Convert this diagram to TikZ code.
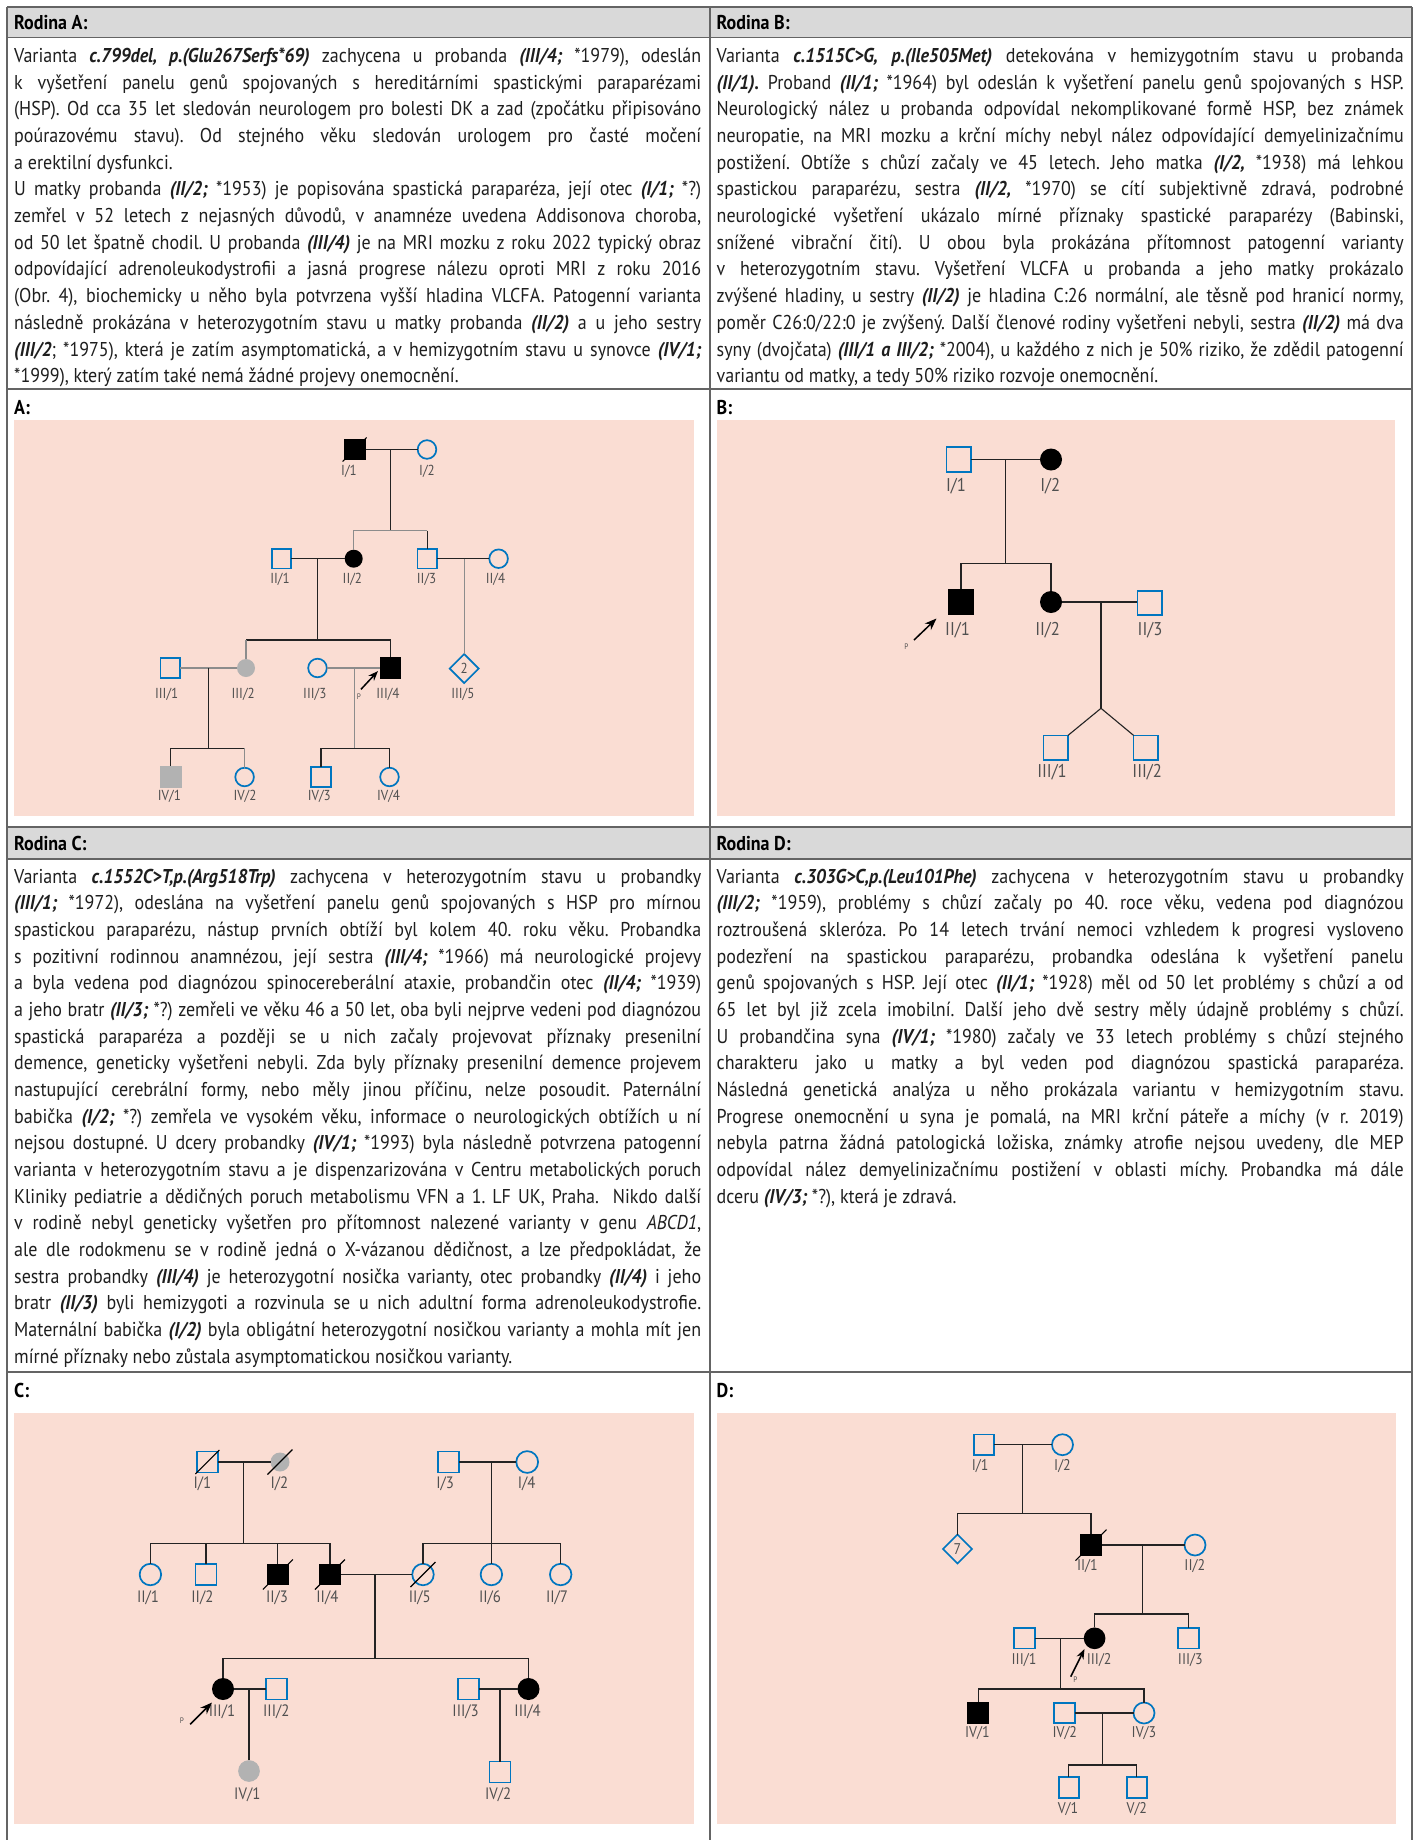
\documentclass[tikz,border=0pt]{standalone}
\usepackage{fontspec}
\setmainfont{PT Sans}[FakeStretch=0.90]
\frenchspacing
\usetikzlibrary{arrows.meta,shapes.geometric}
\definecolor{pblue}{RGB}{0,118,192}
\definecolor{pinkbg}{RGB}{250,221,211}
\definecolor{hdgray}{RGB}{217,217,217}
\definecolor{tabline}{RGB}{100,100,100}
\definecolor{symgray}{RGB}{178,178,178}
\definecolor{labgray}{RGB}{80,80,80}
\definecolor{ldark}{RGB}{35,35,35}
\definecolor{lgray}{RGB}{140,140,140}
\definecolor{txtc}{RGB}{30,30,30}
\newlength\tw \setlength\tw{687pt}
\newcommand\bodyf{\fontsize{20}{24}\selectfont\frenchspacing\spaceskip=4.8pt plus 9pt minus 1.7pt\relax}
\newcommand\rf[1]{{\bfseries\itshape #1}}
\newcommand\JL[4]{\node[tl] (#1) at (#2,#3) {\makebox[\tw][s]{#4}};}
\newcommand\LL[4]{\node[tl] (#1) at (#2,#3) {#4};}
\newcommand\dead[2]{\draw[dl] ([shift={(-#2pt,-#2pt)}]#1.center) -- ([shift={(#2pt,#2pt)}]#1.center);}
\newcommand\labA{\fontsize{14.5}{16}\selectfont}
\newcommand\labB{\fontsize{18.5}{20}\selectfont}
\newcommand\labC{\fontsize{16.5}{18}\selectfont}
\newcommand\labD{\fontsize{15.5}{17}\selectfont}
\tikzset{
 tl/.style={anchor=base west, inner sep=0pt, font=\bodyf, text=txtc},
 hd/.style={anchor=base west, inner sep=0pt, font=\fontsize{20}{24}\selectfont\bfseries, text=black},
 tab/.style={draw=tabline, line width=1.3pt},
 sym/.style={inner sep=0pt, outer sep=0pt},
 bsq/.style={sym, rectangle, draw=pblue, line width=1.7pt, minimum size=#1},
 ksq/.style={sym, rectangle, fill=black, minimum size=#1},
 gsq/.style={sym, rectangle, fill=symgray, minimum size=#1},
 bci/.style={sym, circle, draw=pblue, line width=1.7pt, minimum size=#1},
 kci/.style={sym, circle, fill=black, minimum size=#1},
 gci/.style={sym, circle, fill=symgray, minimum size=#1},
 bdi/.style={sym, diamond, aspect=1, draw=pblue, line width=1.7pt, minimum size=#1, text=labgray},
 lab/.style={inner sep=0pt, text=labgray},
 kl/.style={draw=ldark, line width=1.1pt},
 gl/.style={draw=lgray, line width=1.1pt},
 dl/.style={draw=black, line width=1.1pt},
 parr/.style={draw=black, line width=1.5pt, -{Stealth[length=#1,width=0.75*#1]}},
 pl/.style={inner sep=0pt, text=labgray, font=\fontsize{8}{9}\selectfont},
}
\begin{document}
\begin{tikzpicture}[x=1pt,y=-1pt]
\useasboundingbox (0,0) rectangle (1417,1840);
\fill[white] (0,0) rectangle (1417,1840);
% ---------- table ----------
\fill[hdgray] (7,7) rectangle (1412,37.5);
\fill[hdgray] (7,827) rectangle (1412,859);
\draw[tab] (7,7) -- (1412,7);
\draw[tab] (7,37.5) -- (1412,37.5);
\draw[tab] (7,389) -- (1412,389);
\draw[tab] (7,827) -- (1412,827);
\draw[tab] (7,859) -- (1412,859);
\draw[tab] (7,1372) -- (1412,1372);
\draw[tab] (7,7) -- (7,1840);
\draw[tab] (710,7) -- (710,1840);
\draw[tab] (1412,7) -- (1412,1840);
\node[hd] (hA) at (14,29.5) {Rodina A:};
\node[hd] (hB) at (716.5,29.5) {Rodina B:};
\node[hd] (hC) at (14,850) {Rodina C:};
\node[hd] (hD) at (716.5,850) {Rodina D:};
\node[hd] (pA) at (14,414) {A:};
\node[hd] (pB) at (716.5,414) {B:};
\node[hd] (pC) at (14,1397) {C:};
\node[hd] (pD) at (716.5,1397) {D:};
% ---------- text A ----------
\JL{a1}{14}{62.3}{Varianta \rf{c.799del, p.(Glu267Serfs*69)} zachycena u probanda \rf{(III/4;} *1979), odeslán}
\JL{a2}{14}{89}{k vyšetření panelu genů spojovaných s hereditárními spastickými paraparézami}
\JL{a3}{14}{115.7}{(HSP). Od cca 35 let sledován neurologem pro bolesti DK a zad (zpočátku připisováno}
\JL{a4}{14}{142.4}{poúrazovému stavu). Od stejného věku sledován urologem pro časté močení}
\LL{a5}{14}{169.1}{a erektilní dysfunkci.}
\JL{a6}{14}{195.8}{U matky probanda \rf{(II/2;} *1953) je popisována spastická paraparéza, její otec \rf{(I/1;} *?)}
\JL{a7}{14}{222.5}{zemřel v 52 letech z nejasných důvodů, v anamnéze uvedena Addisonova choroba,}
\JL{a8}{14}{249.2}{od 50 let špatně chodil. U probanda \rf{(III/4)} je na MRI mozku z roku 2022 typický obraz}
\JL{a9}{14}{275.9}{odpovídající adrenoleukodystrofii a jasná progrese nálezu oproti MRI z roku 2016}
\JL{a10}{14}{302.6}{(Obr. 4), biochemicky u něho byla potvrzena vyšší hladina VLCFA. Patogenní varianta}
\JL{a11}{14}{329.3}{následně prokázána v heterozygotním stavu u matky probanda \rf{(II/2)} a u jeho sestry}
\JL{a12}{14}{356}{\rf{(III/2}; *1975), která je zatím asymptomatická, a v hemizygotním stavu u synovce \rf{(IV/1;}}
\LL{a13}{14}{382.7}{*1999), který zatím také nemá žádné projevy onemocnění.}
% ---------- text B ----------
\JL{b1}{716.5}{62.3}{Varianta \rf{c.1515C>G, p.(Ile505Met)} detekována v hemizygotním stavu u probanda}
\JL{b2}{716.5}{89}{\rf{(II/1).} Proband \rf{(II/1;} *1964) byl odeslán k vyšetření panelu genů spojovaných s HSP.}
\JL{b3}{716.5}{115.7}{Neurologický nález u probanda odpovídal nekomplikované formě HSP, bez známek}
\JL{b4}{716.5}{142.4}{neuropatie, na MRI mozku a krční míchy nebyl nález odpovídající demyelinizačnímu}
\JL{b5}{716.5}{169.1}{postižení. Obtíže s chůzí začaly ve 45 letech. Jeho matka \rf{(I/2,} *1938) má lehkou}
\JL{b6}{716.5}{195.8}{spastickou paraparézu, sestra \rf{(II/2,} *1970) se cítí subjektivně zdravá, podrobné}
\JL{b7}{716.5}{222.5}{neurologické vyšetření ukázalo mírné příznaky spastické paraparézy (Babinski,}
\JL{b8}{716.5}{249.2}{snížené vibrační čití). U obou byla prokázána přítomnost patogenní varianty}
\JL{b9}{716.5}{275.9}{v heterozygotním stavu. Vyšetření VLCFA u probanda a jeho matky prokázalo}
\JL{b10}{716.5}{302.6}{zvýšené hladiny, u sestry \rf{(II/2)} je hladina C:26 normální, ale těsně pod hranicí normy,}
\JL{b11}{716.5}{329.3}{poměr C26:0/22:0 je zvýšený. Další členové rodiny vyšetřeni nebyli, sestra \rf{(II/2)} má dva}
\JL{b12}{716.5}{356}{syny (dvojčata) \rf{(III/1 a III/2;} *2004), u každého z nich je 50\% riziko, že zdědil patogenní}
\LL{b13}{716.5}{382.7}{variantu od matky, a tedy 50\% riziko rozvoje onemocnění.}
% ---------- text C ----------
\JL{c1}{14}{883.3}{Varianta \rf{c.1552C>T,p.(Arg518Trp)} zachycena v heterozygotním stavu u probandky}
\JL{c2}{14}{909.95}{\rf{(III/1;} *1972), odeslána na vyšetření panelu genů spojovaných s HSP pro mírnou}
\JL{c3}{14}{936.6}{spastickou paraparézu, nástup prvních obtíží byl kolem 40. roku věku. Probandka}
\JL{c4}{14}{963.25}{s pozitivní rodinnou anamnézou, její sestra \rf{(III/4;} *1966) má neurologické projevy}
\JL{c5}{14}{989.9}{a byla vedena pod diagnózou spinocereberální ataxie, probandčin otec \rf{(II/4;} *1939)}
\JL{c6}{14}{1016.55}{a jeho bratr \rf{(II/3;} *?) zemřeli ve věku 46 a 50 let, oba byli nejprve vedeni pod diagnózou}
\JL{c7}{14}{1043.2}{spastická paraparéza a později se u nich začaly projevovat příznaky presenilní}
\JL{c8}{14}{1069.85}{demence, geneticky vyšetřeni nebyli. Zda byly příznaky presenilní demence projevem}
\JL{c9}{14}{1096.5}{nastupující cerebrální formy, nebo měly jinou příčinu, nelze posoudit. Paternální}
\JL{c10}{14}{1123.15}{babička \rf{(I/2;} *?) zemřela ve vysokém věku, informace o neurologických obtížích u ní}
\JL{c11}{14}{1149.8}{nejsou dostupné. U dcery probandky \rf{(IV/1;} *1993) byla následně potvrzena patogenní}
\JL{c12}{14}{1176.45}{varianta v heterozygotním stavu a je dispenzarizována v Centru metabolických poruch}
\JL{c13}{14}{1203.1}{Kliniky pediatrie a dědičných poruch metabolismu VFN a 1. LF UK, Praha. \ Nikdo další}
\JL{c14}{14}{1229.75}{v rodině nebyl geneticky vyšetřen pro přítomnost nalezené varianty v genu \textit{ABCD1},}
\JL{c15}{14}{1256.4}{ale dle rodokmenu se v rodině jedná o X-vázanou dědičnost, a lze předpokládat, že}
\JL{c16}{14}{1283.05}{sestra probandky \rf{(III/4)} je heterozygotní nosička varianty, otec probandky \rf{(II/4)} i jeho}
\JL{c17}{14}{1309.7}{bratr \rf{(II/3)} byli hemizygoti a rozvinula se u nich adultní forma adrenoleukodystrofie.}
\JL{c18}{14}{1336.35}{Maternální babička \rf{(I/2)} byla obligátní heterozygotní nosičkou varianty a mohla mít jen}
\LL{c19}{14}{1363}{mírné příznaky nebo zůstala asymptomatickou nosičkou varianty.}
% ---------- text D ----------
\JL{d1}{716.5}{883.3}{Varianta \rf{c.303G>C,p.(Leu101Phe)} zachycena v heterozygotním stavu u probandky}
\JL{d2}{716.5}{909.95}{\rf{(III/2;} *1959), problémy s chůzí začaly po 40. roce věku, vedena pod diagnózou}
\JL{d3}{716.5}{936.6}{roztroušená skleróza. Po 14 letech trvání nemoci vzhledem k progresi vysloveno}
\JL{d4}{716.5}{963.25}{podezření na spastickou paraparézu, probandka odeslána k vyšetření panelu}
\JL{d5}{716.5}{989.9}{genů spojovaných s HSP. Její otec \rf{(II/1;} *1928) měl od 50 let problémy s chůzí a od}
\JL{d6}{716.5}{1016.55}{65 let byl již zcela imobilní. Další jeho dvě sestry měly údajně problémy s chůzí.}
\JL{d7}{716.5}{1043.2}{U probandčina syna \rf{(IV/1;} *1980) začaly ve 33 letech problémy s chůzí stejného}
\JL{d8}{716.5}{1069.85}{charakteru jako u matky a byl veden pod diagnózou spastická paraparéza.}
\JL{d9}{716.5}{1096.5}{Následná genetická analýza u něho prokázala variantu v hemizygotním stavu.}
\JL{d10}{716.5}{1123.15}{Progrese onemocnění u syna je pomalá, na MRI krční páteře a míchy (v r. 2019)}
\JL{d11}{716.5}{1149.8}{nebyla patrna žádná patologická ložiska, známky atrofie nejsou uvedeny, dle MEP}
\JL{d12}{716.5}{1176.45}{odpovídal nález demyelinizačnímu postižení v oblasti míchy. Probandka má dále}
\LL{d13}{716.5}{1203.1}{dceru \rf{(IV/3;} *?), která je zdravá.}
% ---------- pink panels ----------
\fill[pinkbg] (14,420) rectangle (694,816);
\fill[pinkbg] (717,420) rectangle (1395,816);
\fill[pinkbg] (14,1412.7) rectangle (694,1824);
\fill[pinkbg] (717,1412.7) rectangle (1396,1824);
% ---------- pedigree A ----------
\node[ksq=21.8pt] (A_I1) at (354.6,449.5) {};
\node[bci=18.6pt] (A_I2) at (427,449.5) {};
\dead{A_I1}{12}
\draw[kl] (A_I1) -- (A_I2);
\coordinate (A_m1) at (390.4,449.5);
\coordinate (A_s1) at (390.4,530.7);
\draw[kl] (A_m1) -- (A_s1);
\node[bsq=19.6pt] (A_II1) at (281.5,558.7) {};
\node[kci=18pt] (A_II2) at (353.7,558.7) {};
\node[bsq=19.6pt] (A_II3) at (427.3,558.7) {};
\node[bci=18.6pt] (A_II4) at (498.6,558.7) {};
\draw[gl] (A_s1) -| (A_II2);
\draw[gl] (A_s1) -- (A_s1 -| A_II3);
\draw[kl] (A_s1 -| A_II3) -- (A_II3);
\draw[kl] (A_II1) -- (A_II2);
\draw[kl] (A_II3) -- (A_II4);
\coordinate (A_m2) at (317.5,558.7);
\coordinate (A_s2) at (317.5,640);
\draw[kl] (A_m2) -- (A_s2);
\coordinate (A_m3) at (464.2,558.7);
\node[bsq=19.6pt] (A_III1) at (170.3,668) {};
\node[gci=18pt] (A_III2) at (246,668) {};
\node[bci=18.6pt] (A_III3) at (317.5,668) {};
\node[ksq=21.8pt] (A_III4) at (390.4,668) {};
\node[bdi=29pt, font=\labA] (A_III5) at (464.2,668.5) {2};
\draw[kl] (A_s2) -| (A_III4);
\draw[kl] (A_s2) -- (A_s2 -| A_III2);
\draw[gl] (A_s2 -| A_III2) -- (A_III2);
\draw[gl] (A_m3) -- (A_III5);
\draw[gl] (A_III1) -- (A_III2);
\draw[gl] (A_III3) -- (A_III4);
\coordinate (A_m4) at (208.8,668);
\coordinate (A_s4) at (208.8,748.3);
\draw[kl] (A_m4) -- (A_s4);
\coordinate (A_m5) at (354.2,668);
\coordinate (A_s5) at (354.2,748.3);
\draw[gl] (A_m5) -- (A_s5);
\node[gsq=21.6pt] (A_IV1) at (170.8,777) {};
\node[bci=18.6pt] (A_IV2) at (244.6,777) {};
\node[bsq=19.6pt] (A_IV3) at (321,777) {};
\node[bci=18.6pt] (A_IV4) at (389.5,777) {};
\draw[kl] (A_s4) -| (A_IV1);
\draw[kl] (A_s4) -- (A_s4 -| A_IV2);
\draw[gl] (A_s4 -| A_IV2) -- (A_IV2);
\draw[kl] (A_s5) -| (A_IV3);
\draw[kl] (A_s5) -| (A_IV4);
\node[lab,font=\labA] (A_lI1) at (349,471) {I/1};
\node[lab,font=\labA] (A_lI2) at (427,471) {I/2};
\node[lab,font=\labA] (A_lII1) at (280,579.3) {II/1};
\node[lab,font=\labA] (A_lII2) at (352.4,579.3) {II/2};
\node[lab,font=\labA] (A_lII3) at (426.6,579.3) {II/3};
\node[lab,font=\labA] (A_lII4) at (495.5,579.3) {II/4};
\node[lab,font=\labA] (A_lIII1) at (166.7,694) {III/1};
\node[lab,font=\labA] (A_lIII2) at (243.2,694) {III/2};
\node[lab,font=\labA] (A_lIII3) at (314.8,694) {III/3};
\node[lab,font=\labA] (A_lIII4) at (388,694) {III/4};
\node[lab,font=\labA] (A_lIII5) at (462.9,694) {III/5};
\node[lab,font=\labA] (A_lIV1) at (169.4,796.7) {IV/1};
\node[lab,font=\labA] (A_lIV2) at (245,796.7) {IV/2};
\node[lab,font=\labA] (A_lIV3) at (319.3,796.7) {IV/3};
\node[lab,font=\labA] (A_lIV4) at (388.6,796.7) {IV/4};
\coordinate (A_pt) at (361,689.3);
\coordinate (A_ph) at (378,671);
\draw[parr=10pt] (A_pt) -- (A_ph);
\node[pl] (A_P) at (359,697) {P};
% ---------- pedigree B ----------
\node[bsq=24.6pt] (B_I1) at (958.9,459.5) {};
\node[kci=22pt] (B_I2) at (1051,459.5) {};
\draw[kl] (B_I1) -- (B_I2);
\coordinate (B_m1) at (1005.9,459.5);
\coordinate (B_s1) at (1005.9,563.7);
\draw[kl] (B_m1) -- (B_s1);
\node[ksq=26.3pt] (B_II1) at (961,602) {};
\node[kci=22pt] (B_II2) at (1051,602) {};
\node[bsq=24.6pt] (B_II3) at (1149.7,603) {};
\draw[kl] (B_s1) -| (B_II1);
\draw[kl] (B_s1) -| (B_II2);
\draw[kl] (B_II2) -- (B_II2 -| B_II3.west);
\coordinate (B_m2) at (1101,602);
\coordinate (B_tw) at (1101,708.3);
\draw[kl] (B_m2) -- (B_tw);
\node[bsq=24.6pt] (B_III1) at (1055.7,747.7) {};
\node[bsq=24.6pt] (B_III2) at (1145.9,747.7) {};
\draw[kl] (B_tw) -- (B_III1.north east);
\draw[kl] (B_tw) -- (B_III2.north west);
\node[lab,font=\labB] (B_lI1) at (956,485.7) {I/1};
\node[lab,font=\labB] (B_lI2) at (1050.3,485.7) {I/2};
\node[lab,font=\labB] (B_lII1) at (957.5,630) {II/1};
\node[lab,font=\labB] (B_lII2) at (1047.6,630) {II/2};
\node[lab,font=\labB] (B_lII3) at (1150,630) {II/3};
\node[lab,font=\labB] (B_lIII1) at (1052,771.7) {III/1};
\node[lab,font=\labB] (B_lIII2) at (1147.2,771.7) {III/2};
\coordinate (B_pt) at (914,640);
\coordinate (B_ph) at (936.5,618.5);
\draw[parr=12pt] (B_pt) -- (B_ph);
\node[pl] (B_P) at (906.3,647) {P};
% ---------- pedigree C ----------
\node[bsq=21pt] (C_I1) at (207.4,1462) {};
\node[gci=19pt] (C_I2) at (280,1462) {};
\dead{C_I1}{12}
\dead{C_I2}{12.5}
\draw[kl] (C_I1) -- (C_I2);
\coordinate (C_m1) at (243.7,1462);
\coordinate (C_s1) at (243.7,1543.3);
\draw[kl] (C_m1) -- (C_s1);
\node[bsq=21pt] (C_I3) at (448.8,1462) {};
\node[bci=21.8pt] (C_I4) at (527.2,1462) {};
\draw[kl] (C_I3) -- (C_I4);
\coordinate (C_m2) at (491.4,1462);
\coordinate (C_s2) at (491.4,1543.3);
\draw[kl] (C_m2) -- (C_s2);
\node[bci=21.5pt] (C_II1) at (150.4,1574.5) {};
\node[bsq=21pt] (C_II2) at (206,1574.5) {};
\node[ksq=21.5pt] (C_II3) at (277.9,1574.5) {};
\node[ksq=21.5pt] (C_II4) at (330,1574.5) {};
\node[bci=21.5pt] (C_II5) at (423,1574.5) {};
\node[bci=21.5pt] (C_II6) at (491.4,1574.5) {};
\node[bci=21.5pt] (C_II7) at (560.7,1574.5) {};
\dead{C_II3}{15}
\dead{C_II4}{15}
\dead{C_II5}{12.5}
\draw[kl] (C_s1) -| (C_II1);
\draw[kl] (C_s1) -| (C_II2);
\draw[kl] (C_s1) -| (C_II3);
\draw[kl] (C_s1) -| (C_II4);
\draw[kl] (C_s2) -| (C_II5);
\draw[kl] (C_s2) -- (C_II6);
\draw[kl] (C_s2) -| (C_II7);
\draw[kl] (C_II4) -- (C_II5);
\coordinate (C_m3) at (375,1574.5);
\coordinate (C_s3) at (375,1658.3);
\draw[kl] (C_m3) -- (C_s3);
\node[kci=22pt] (C_III1) at (223,1689) {};
\node[bsq=21pt] (C_III2) at (276.7,1689) {};
\node[bsq=21pt] (C_III3) at (468.3,1689) {};
\node[kci=22pt] (C_III4) at (528.5,1689) {};
\draw[kl] (C_s3) -| (C_III1);
\draw[kl] (C_s3) -| (C_III4);
\draw[kl] (C_III1) -- (C_III2);
\draw[kl] (C_III3) -- (C_III4);
\coordinate (C_m4) at (249,1689);
\coordinate (C_m5) at (500,1689);
\node[gci=21.7pt] (C_IV1) at (249,1771) {};
\node[bsq=21pt] (C_IV2) at (500,1772) {};
\draw[kl] (C_m4) -- (C_IV1);
\draw[kl] (C_m5) -- (C_IV2);
\node[lab,font=\labC] (C_lI1) at (202.4,1483.3) {I/1};
\node[lab,font=\labC] (C_lI2) at (279.4,1483.3) {I/2};
\node[lab,font=\labC] (C_lI3) at (445.2,1483.3) {I/3};
\node[lab,font=\labC] (C_lI4) at (526.7,1483.3) {I/4};
\node[lab,font=\labC] (C_lII1) at (148,1597.3) {II/1};
\node[lab,font=\labC] (C_lII2) at (202.4,1597.3) {II/2};
\node[lab,font=\labC] (C_lII3) at (277,1597.3) {II/3};
\node[lab,font=\labC] (C_lII4) at (327.4,1597.3) {II/4};
\node[lab,font=\labC] (C_lII5) at (419.8,1597.3) {II/5};
\node[lab,font=\labC] (C_lII6) at (490,1597.3) {II/6};
\node[lab,font=\labC] (C_lII7) at (557,1597.3) {II/7};
\node[lab,font=\labC] (C_lIII1) at (222,1711.7) {III/1};
\node[lab,font=\labC] (C_lIII2) at (276.3,1711.7) {III/2};
\node[lab,font=\labC] (C_lIII3) at (465.6,1711.7) {III/3};
\node[lab,font=\labC] (C_lIII4) at (527.6,1711.7) {III/4};
\node[lab,font=\labC] (C_lIV1) at (247.3,1794.3) {IV/1};
\node[lab,font=\labC] (C_lIV2) at (498.2,1794.3) {IV/2};
\coordinate (C_pt) at (190.2,1724.3);
\coordinate (C_ph) at (212,1702.5);
\draw[parr=12pt] (C_pt) -- (C_ph);
\node[pl] (C_P) at (182,1721) {P};
% ---------- pedigree D ----------
\node[bsq=20.5pt] (D_I1) at (983.9,1444.7) {};
\node[bci=21pt] (D_I2) at (1062.5,1444.7) {};
\draw[kl] (D_I1) -- (D_I2);
\coordinate (D_m1) at (1022.7,1444.7);
\coordinate (D_s1) at (1022.7,1513.7);
\draw[kl] (D_m1) -- (D_s1);
\node[bdi=29pt, font=\labD] (D_II0) at (957.5,1549) {7};
\node[ksq=21.8pt] (D_II1) at (1091,1545) {};
\node[bci=21pt] (D_II2) at (1195,1545) {};
\dead{D_II1}{15.5}
\draw[kl] (D_s1) -| (D_II0);
\draw[kl] (D_s1) -| (D_II1);
\draw[kl] (D_II1) -- (D_II2);
\coordinate (D_m2) at (1142.2,1545);
\coordinate (D_s2) at (1142.2,1614);
\draw[kl] (D_m2) -- (D_s2);
\node[bsq=20.5pt] (D_III1) at (1024.5,1638.3) {};
\node[kci=21.7pt] (D_III2) at (1094.6,1638.3) {};
\node[bsq=20.5pt] (D_III3) at (1188.4,1638.3) {};
\draw[kl] (D_s2) -| (D_III2);
\draw[kl] (D_s2) -| (D_III3);
\draw[kl] (D_III1) -- (D_III2);
\coordinate (D_m3) at (1060.3,1638.3);
\coordinate (D_s3) at (1060.3,1689);
\draw[kl] (D_m3) -- (D_s3);
\node[ksq=21.8pt] (D_IV1) at (978.3,1713) {};
\node[bsq=20.5pt] (D_IV2) at (1064.4,1713) {};
\node[bci=21pt] (D_IV3) at (1144,1713) {};
\draw[kl] (D_s3) -| (D_IV1);
\draw[kl] (D_s3) -| (D_IV3);
\draw[kl] (D_IV2) -- (D_IV3);
\coordinate (D_m4) at (1102.8,1713);
\coordinate (D_s4) at (1102.8,1765);
\draw[kl] (D_m4) -- (D_s4);
\node[bsq=20.5pt] (D_V1) at (1068.9,1787.5) {};
\node[bsq=20.5pt] (D_V2) at (1136.9,1787.5) {};
\draw[kl] (D_s4) -| (D_V1);
\draw[kl] (D_s4) -| (D_V2);
\node[lab,font=\labD] (D_lI1) at (980.1,1466) {I/1};
\node[lab,font=\labD] (D_lI2) at (1062.5,1466) {I/2};
\node[lab,font=\labD] (D_lII1) at (1087.4,1566) {II/1};
\node[lab,font=\labD] (D_lII2) at (1194.8,1566) {II/2};
\node[lab,font=\labD] (D_lIII1) at (1024,1660) {III/1};
\node[lab,font=\labD] (D_lIII2) at (1099.2,1660) {III/2};
\node[lab,font=\labD] (D_lIII3) at (1190.3,1660) {III/3};
\node[lab,font=\labD] (D_lIV1) at (977.4,1732.7) {IV/1};
\node[lab,font=\labD] (D_lIV2) at (1064.8,1732.7) {IV/2};
\node[lab,font=\labD] (D_lIV3) at (1144,1732.7) {IV/3};
\node[lab,font=\labD] (D_lV1) at (1068,1809) {V/1};
\node[lab,font=\labD] (D_lV2) at (1136.8,1809) {V/2};
\coordinate (D_pt) at (1070.7,1676.7);
\coordinate (D_ph) at (1084.5,1649);
\draw[parr=10pt] (D_pt) -- (D_ph);
\node[pl] (D_P) at (1075.5,1680) {P};
\end{tikzpicture}
\end{document}
